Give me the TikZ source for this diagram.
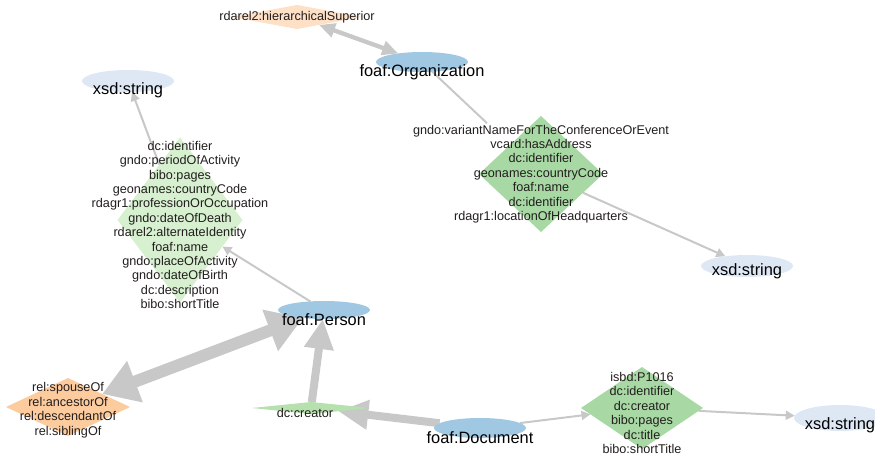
\documentclass[tikz,border=0pt]{standalone}
\usepackage{fontspec}
\setmainfont{Liberation Sans}
\usetikzlibrary{shapes.geometric,arrows.meta,backgrounds}

\definecolor{classblue}{RGB}{160,200,226}
\definecolor{dtblue}{RGB}{222,232,245}
\definecolor{propgreen}{RGB}{168,217,164}
\definecolor{palegreen}{RGB}{214,240,208}
\definecolor{midgreen}{RGB}{182,224,174}
\definecolor{relorange}{RGB}{253,204,158}
\definecolor{paleorange}{RGB}{253,224,198}
\definecolor{edge}{RGB}{200,200,200}
\definecolor{txt}{RGB}{35,30,30}

\begin{document}
\begin{tikzpicture}[
        x=0.03cm, y=-0.03cm, % one unit = one pixel of the sketch
        big/.style={font=\fontsize{14}{16}\selectfont, text=black},
        small/.style={font=\fontsize{10.8}{12.3}\selectfont, text=txt, align=center},
        class/.style={ellipse, fill=classblue, minimum width=2.76cm, minimum height=0.6cm, inner sep=0pt, outer sep=0pt}, % Class styling
        datatype/.style={class, fill=dtblue, minimum height=0.66cm}, % Literal styling
        prop/.style={diamond, inner sep=0pt, outer sep=0pt}, % Property styling
        link/.style={draw=edge, line width=0.06cm, -{Triangle[length=0.27cm, width=0.27cm]}}, % Arrow styling
        midlink/.style={draw=edge, line width=0.24cm, -{Triangle[length=0.9cm, width=0.84cm]}},
        ]

        \useasboundingbox (0,0) rectangle (875,457);

        % Define nodes
        \node (super) [prop, fill=paleorange, minimum width=3.9cm, minimum height=0.72cm,
            label={[small]center:rdarel2:hierarchicalSuperior}] at (297,17) {};
        \node (org) [class, label={[big,yshift=-0.3cm]center:foaf:Organization}] at (422,62) {};
        \node (xsdA) [datatype, label={[big,yshift=-0.27cm]center:xsd:string}] at (128,81) {};
        \node (pdiam) [prop, fill=palegreen, minimum width=3.75cm, minimum height=4.95cm,
            label={[small,yshift=-0.15cm]center:dc:identifier\\gndo:periodOfActivity\\bibo:pages\\geonames:countryCode\\rdagr1:professionOrOccupation\\gndo:dateOfDeath\\rdarel2:alternateIdentity\\foaf:name\\gndo:placeOfActivity\\gndo:dateOfBirth\\dc:description\\bibo:shortTitle}] at (180,220) {};
        \node (odiam) [prop, fill=propgreen, minimum width=3.72cm, minimum height=3.48cm,
            label={[small]center:gndo:variantNameForTheConferenceOrEvent\\vcard:hasAddress\\dc:identifier\\geonames:countryCode\\foaf:name\\dc:identifier\\rdagr1:locationOfHeadquarters}] at (541,174) {};
        \node (xsdB) [datatype, label={[big,yshift=-0.15cm]center:xsd:string}] at (747,266) {};
        \node (person) [class, minimum height=0.54cm, label={[big,yshift=-0.3cm]center:foaf:Person}] at (324,310) {};
        \node (rel) [prop, fill=relorange, minimum width=3.72cm, minimum height=1.74cm,
            label={[small,yshift=-0.1cm]center:rel:spouseOf\\rel:ancestorOf\\rel:descendantOf\\rel:siblingOf}] at (68,407) {};
        \node (creator) [prop, fill=midgreen, minimum width=3.54cm, minimum height=0.36cm,
            label={[small,xshift=-0.18cm,yshift=-0.15cm]center:dc:creator}] at (311,408) {};
        \node (doc) [class, label={[big,yshift=-0.3cm]center:foaf:Document}] at (480,428) {};
        \node (ddiam) [prop, fill=propgreen, minimum width=3.66cm, minimum height=2.46cm,
            label={[small,yshift=-0.15cm]center:isbd:P1016\\dc:identifier\\dc:creator\\bibo:pages\\dc:title\\bibo:shortTitle}] at (642,408) {};
        \node (xsdC) [datatype, minimum height=0.78cm, label={[big,yshift=-0.21cm]center:xsd:string}] at (840,418) {};

        % Draw arrows
        \begin{scope}[on background layer]
        \draw[draw=edge, line width=0.13cm, {Triangle[length=0.48cm, width=0.42cm]}-{Triangle[length=0.48cm, width=0.42cm]}] (super) -- (org);
        \draw[draw=edge, line width=0.06cm, shorten >=0.95cm] (org) -- (odiam);
        \draw[link] (odiam) -- (xsdB);
        \draw[link] (pdiam) -- (xsdA);
        \draw[link] (person) -- (pdiam);
        \draw[draw=edge, line width=0.36cm, {Triangle[length=1.05cm, width=1.26cm]}-{Triangle[length=1.05cm, width=1.26cm]}] (rel) -- (person);
        \draw[midlink] (creator) -- (person);
        \draw[midlink] (doc) -- (creator);
        \draw[link] (doc) -- (ddiam);
        \draw[link] (ddiam) -- (xsdC);
        \end{scope}

\end{tikzpicture}
\end{document}
